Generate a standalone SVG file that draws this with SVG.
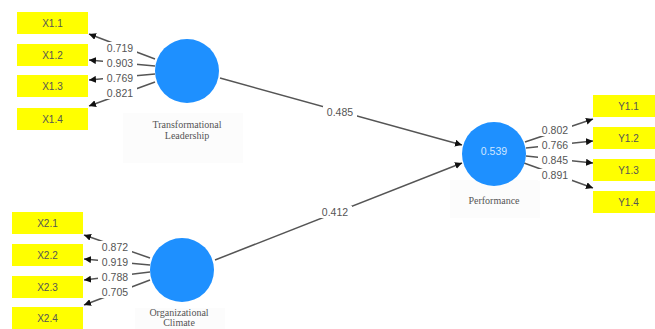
<svg xmlns="http://www.w3.org/2000/svg" width="655" height="329" viewBox="0 0 655 329">
<defs>
<marker id="ah" viewBox="0 0 10 10" refX="10" refY="5" markerWidth="7" markerHeight="7" markerUnits="userSpaceOnUse" orient="auto">
<path d="M0,0 L10,5 L0,10 z" fill="#111"/>
</marker>
<style>
.box{fill:#ffff00;}
.bt{font-family:"Liberation Sans",Arial,sans-serif;font-size:10px;fill:#555;text-anchor:middle;}
.lv{fill:#1e90ff;}
.lbl{font-family:"Liberation Serif","Times New Roman",serif;font-size:10px;fill:#555;text-anchor:middle;}
.ln{stroke:#555;stroke-width:1.5;fill:none;marker-end:url(#ah);}
.w{font-family:"Liberation Sans",Arial,sans-serif;font-size:10.5px;fill:#555;text-anchor:middle;}
.bg{fill:#fcfcfc;}
</style>
</defs>
<rect width="655" height="329" fill="#ffffff"/>
<rect class="bg" x="123" y="113" width="120" height="50"/>
<rect class="bg" x="450" y="180" width="90" height="38"/>
<rect class="bg" x="135" y="308" width="90" height="21"/>

<g id="connectors">
<line class="ln" x1="155" y1="59" x2="89" y2="34"/>
<line class="ln" x1="155" y1="66" x2="89" y2="60"/>
<line class="ln" x1="155" y1="74" x2="89" y2="80"/>
<line class="ln" x1="155" y1="82" x2="89" y2="106"/>
<line class="ln" x1="150" y1="258" x2="84" y2="235"/>
<line class="ln" x1="150" y1="265" x2="84" y2="259"/>
<line class="ln" x1="150" y1="272" x2="84" y2="280"/>
<line class="ln" x1="150" y1="280" x2="84" y2="305"/>
<line class="ln" x1="220" y1="78" x2="462" y2="145"/>
<line class="ln" x1="215" y1="260" x2="462" y2="163"/>
<line class="ln" x1="525" y1="142" x2="593" y2="119"/>
<line class="ln" x1="526" y1="148" x2="593" y2="141"/>
<line class="ln" x1="526" y1="156" x2="593" y2="163"/>
<line class="ln" x1="524" y1="163" x2="593" y2="188"/>
<g>
<rect x="103" y="42" width="34" height="12" fill="#fff"/><text class="w" x="120" y="52">0.719</text>
<rect x="103" y="57" width="34" height="12" fill="#fff"/><text class="w" x="120" y="67">0.903</text>
<rect x="103" y="72" width="34" height="12" fill="#fff"/><text class="w" x="120" y="82">0.769</text>
<rect x="103" y="87" width="34" height="12" fill="#fff"/><text class="w" x="120" y="97">0.821</text>
<rect x="98" y="241" width="34" height="12" fill="#fff"/><text class="w" x="115" y="251">0.872</text>
<rect x="98" y="256" width="34" height="12" fill="#fff"/><text class="w" x="115" y="266">0.919</text>
<rect x="98" y="271" width="34" height="12" fill="#fff"/><text class="w" x="115" y="281">0.788</text>
<rect x="98" y="286" width="34" height="12" fill="#fff"/><text class="w" x="115" y="296">0.705</text>
<rect x="323" y="106" width="34" height="12" fill="#fff"/><text class="w" x="340" y="116">0.485</text>
<rect x="318" y="206" width="34" height="12" fill="#fff"/><text class="w" x="335" y="216">0.412</text>
<rect x="538" y="124" width="34" height="12" fill="#fff"/><text class="w" x="555" y="134">0.802</text>
<rect x="538" y="139" width="34" height="12" fill="#fff"/><text class="w" x="555" y="149">0.766</text>
<rect x="538" y="154" width="34" height="12" fill="#fff"/><text class="w" x="555" y="164">0.845</text>
<rect x="538" y="169" width="34" height="12" fill="#fff"/><text class="w" x="555" y="179">0.891</text>
</g>
</g>

<g id="X1.1"><rect class="box" x="17" y="12" width="71" height="22"/><text class="bt" x="52.5" y="27">X1.1</text></g>
<g id="X1.2"><rect class="box" x="17" y="44" width="71" height="22"/><text class="bt" x="52.5" y="59">X1.2</text></g>
<g id="X1.3"><rect class="box" x="17" y="75" width="71" height="22"/><text class="bt" x="52.5" y="90">X1.3</text></g>
<g id="X1.4"><rect class="box" x="17" y="108" width="71" height="22"/><text class="bt" x="52.5" y="123">X1.4</text></g>

<g id="X2.1"><rect class="box" x="12" y="212" width="71" height="22"/><text class="bt" x="47.5" y="227">X2.1</text></g>
<g id="X2.2"><rect class="box" x="12" y="244" width="71" height="22"/><text class="bt" x="47.5" y="259">X2.2</text></g>
<g id="X2.3"><rect class="box" x="12" y="276" width="71" height="22"/><text class="bt" x="47.5" y="291">X2.3</text></g>
<g id="X2.4"><rect class="box" x="12" y="307" width="71" height="22"/><text class="bt" x="47.5" y="322">X2.4</text></g>

<g id="Y1.1"><rect class="box" x="593" y="95" width="71" height="22"/><text class="bt" x="628.5" y="110">Y1.1</text></g>
<g id="Y1.2"><rect class="box" x="593" y="127" width="71" height="22"/><text class="bt" x="628.5" y="142">Y1.2</text></g>
<g id="Y1.3"><rect class="box" x="593" y="159" width="71" height="22"/><text class="bt" x="628.5" y="174">Y1.3</text></g>
<g id="Y1.4"><rect class="box" x="593" y="191" width="71" height="22"/><text class="bt" x="628.5" y="206">Y1.4</text></g>

<g id="TL">
<circle class="lv" cx="187" cy="71" r="32"/>
<text class="lbl" x="187" y="128">Transformational</text>
<text class="lbl" x="187" y="139">Leadership</text>
</g>
<g id="OC">
<circle class="lv" cx="182" cy="270" r="32"/>
<text class="lbl" x="179" y="316" font-size="9">Organizational</text>
<text class="lbl" x="179" y="326" font-size="9">Climate</text>
</g>
<g id="PF">
<circle class="lv" cx="494" cy="154" r="32"/>
<text x="494" y="155" font-family="'Liberation Sans',Arial,sans-serif" font-size="10.5" fill="#cfe6ff" text-anchor="middle">0.539</text>
<text class="lbl" x="494" y="204">Performance</text>
</g>
</svg>
